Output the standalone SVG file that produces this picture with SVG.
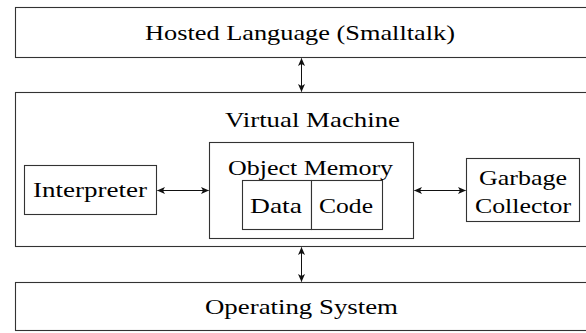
<svg xmlns="http://www.w3.org/2000/svg" width="586" height="333" viewBox="0 0 586 333">
<style>
.box{fill:#fff;stroke:#333;stroke-width:1.1}
.lbl{font-family:"Liberation Serif","DejaVu Serif",serif;font-size:22px;fill:#000}
.con{stroke:#111;stroke-width:1;fill:none;marker-start:url(#ah);marker-end:url(#ah)}
</style>
<defs>
<marker id="ah" viewBox="0 0 8 7" refX="7.5" refY="3.5" markerWidth="8" markerHeight="7" markerUnits="userSpaceOnUse" orient="auto-start-reverse">
<path d="M0,0 L8,3.5 L0,7 L2,3.5 z" fill="#111"/>
</marker>
</defs>
<rect width="586" height="333" fill="#fff"/>
<g id="hosted">
<rect class="box" x="15.5" y="7.5" width="572" height="50"/>
<text class="lbl" x="145" y="40" textLength="310" lengthAdjust="spacingAndGlyphs">Hosted Language (Smalltalk)</text>
</g>
<g id="vm">
<rect class="box" x="15.5" y="92.5" width="572" height="154"/>
<text class="lbl" x="225" y="127" textLength="175" lengthAdjust="spacingAndGlyphs">Virtual Machine</text>
</g>
<g id="interpreter">
<rect class="box" x="24.5" y="165.5" width="132" height="49"/>
<text class="lbl" x="33" y="197" textLength="114" lengthAdjust="spacingAndGlyphs">Interpreter</text>
</g>
<g id="objmem">
<rect class="box" x="209.5" y="142.5" width="204" height="96"/>
<text class="lbl" x="228" y="175" textLength="165" lengthAdjust="spacingAndGlyphs">Object Memory</text>
</g>
<g id="data">
<rect class="box" x="242.5" y="180.5" width="69" height="49"/>
<text class="lbl" x="250" y="213" textLength="52" lengthAdjust="spacingAndGlyphs">Data</text>
</g>
<g id="code">
<rect class="box" x="311.5" y="180.5" width="71" height="49"/>
<text class="lbl" x="319" y="213" textLength="54" lengthAdjust="spacingAndGlyphs">Code</text>
</g>
<g id="gc">
<rect class="box" x="466.5" y="158.5" width="113" height="63"/>
<text class="lbl" x="479" y="185" textLength="88" lengthAdjust="spacingAndGlyphs">Garbage</text>
<text class="lbl" x="475" y="213" textLength="96" lengthAdjust="spacingAndGlyphs">Collector</text>
</g>
<g id="os">
<rect class="box" x="15.5" y="282.5" width="572" height="48"/>
<text class="lbl" x="205" y="314" textLength="193" lengthAdjust="spacingAndGlyphs">Operating System</text>
</g>
<g id="connectors">
<line class="con" x1="301.5" y1="58.5" x2="301.5" y2="91.5"/>
<line class="con" x1="301.5" y1="247.5" x2="301.5" y2="281.5"/>
<line class="con" x1="157.5" y1="190.5" x2="208.5" y2="190.5"/>
<line class="con" x1="414.5" y1="190.5" x2="465.5" y2="190.5"/>
</g>
</svg>
